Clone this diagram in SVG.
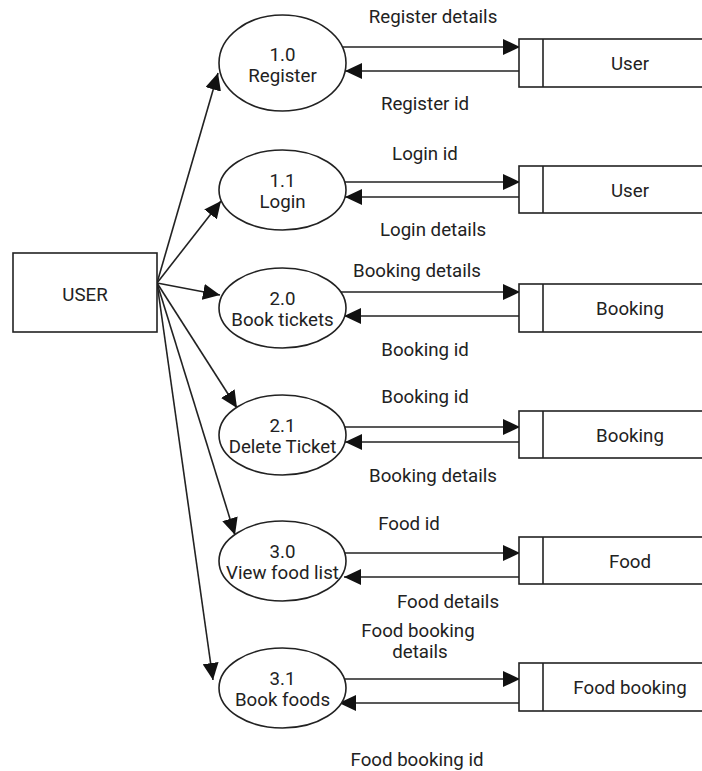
<svg xmlns="http://www.w3.org/2000/svg" width="702" height="771" viewBox="0 0 702 771">
<style>
  text { font-family: Roboto, "Liberation Sans", sans-serif; font-size: 18.7px; fill: #222; text-anchor: middle; }
  .shape { fill: #fff; stroke: #222; stroke-width: 1.6; }
  .flow { fill: none; stroke: #222; stroke-width: 1.6; marker-end: url(#arrow); }
</style>
<defs>
  <marker id="arrow" markerUnits="userSpaceOnUse" markerWidth="18" markerHeight="16" viewBox="0 0 18 16" refX="17" refY="8" orient="auto">
    <path d="M0,0 L17,8 L0,16 Z" fill="#111"/>
  </marker>
</defs>
<rect width="702" height="771" fill="#fff"/>

<g id="connectors">
  <line class="flow" x1="157" y1="283" x2="218" y2="73"/>
  <line class="flow" x1="157" y1="283" x2="221" y2="201"/>
  <line class="flow" x1="157" y1="283" x2="220" y2="295"/>
  <line class="flow" x1="157" y1="283" x2="237" y2="408"/>
  <line class="flow" x1="157" y1="283" x2="235" y2="535"/>
  <line class="flow" x1="157" y1="283" x2="213" y2="680"/>

  <line class="flow" x1="339" y1="47" x2="520" y2="47"/>
  <line class="flow" x1="519" y1="71" x2="345" y2="71"/>
  <line class="flow" x1="343" y1="182" x2="520" y2="182"/>
  <line class="flow" x1="519" y1="197" x2="345" y2="197"/>
  <line class="flow" x1="340" y1="292" x2="520" y2="292"/>
  <line class="flow" x1="519" y1="316" x2="344" y2="316"/>
  <line class="flow" x1="344" y1="427" x2="520" y2="427"/>
  <line class="flow" x1="519" y1="442" x2="345" y2="442"/>
  <line class="flow" x1="340" y1="553" x2="520" y2="553"/>
  <line class="flow" x1="519" y1="577" x2="344" y2="577"/>
  <line class="flow" x1="343" y1="679" x2="520" y2="679"/>
  <line class="flow" x1="519" y1="703" x2="339" y2="703"/>
</g>

<g id="labels">
  <text x="433" y="23">Register details</text>
  <text x="425" y="110">Register id</text>
  <text x="425" y="160">Login id</text>
  <text x="433" y="236">Login details</text>
  <text x="417" y="277">Booking details</text>
  <text x="425" y="356">Booking id</text>
  <text x="425" y="403">Booking id</text>
  <text x="433" y="482">Booking details</text>
  <text x="409" y="530">Food id</text>
  <text x="448" y="608">Food details</text>
  <text x="418" y="637">Food booking</text>
  <text x="420" y="658">details</text>
  <text x="417" y="766">Food booking id</text>
</g>

<g id="user">
  <rect class="shape" x="13" y="253" width="144" height="79"/>
  <text x="85" y="301">USER</text>
</g>

<g id="p1_0">
  <ellipse class="shape" cx="282.5" cy="63" rx="63.5" ry="48"/>
  <text x="282.5" y="61">1.0</text>
  <text x="282.5" y="82">Register</text>
</g>
<g id="p1_1">
  <ellipse class="shape" cx="282.5" cy="190" rx="63.5" ry="40"/>
  <text x="282.5" y="187">1.1</text>
  <text x="282.5" y="208">Login</text>
</g>
<g id="p2_0">
  <ellipse class="shape" cx="282.5" cy="308" rx="63.5" ry="40"/>
  <text x="282.5" y="305">2.0</text>
  <text x="282.5" y="326">Book tickets</text>
</g>
<g id="p2_1">
  <ellipse class="shape" cx="282.5" cy="435" rx="63.5" ry="40"/>
  <text x="282.5" y="432">2.1</text>
  <text x="282.5" y="453">Delete Ticket</text>
</g>
<g id="p3_0">
  <ellipse class="shape" cx="282.5" cy="561" rx="63.5" ry="40"/>
  <text x="282.5" y="558">3.0</text>
  <text x="282.5" y="579">View food list</text>
</g>
<g id="p3_1">
  <ellipse class="shape" cx="282.5" cy="688" rx="63.5" ry="40"/>
  <text x="282.5" y="685">3.1</text>
  <text x="282.5" y="706">Book foods</text>
</g>

<g id="store_user1">
  <rect class="shape" x="519" y="39" width="200" height="48"/>
  <line class="shape" x1="543" y1="39" x2="543" y2="87"/>
  <text x="630" y="70">User</text>
</g>
<g id="store_user2">
  <rect class="shape" x="519" y="166" width="200" height="47"/>
  <line class="shape" x1="543" y1="166" x2="543" y2="213"/>
  <text x="630" y="197">User</text>
</g>
<g id="store_booking1">
  <rect class="shape" x="519" y="284" width="200" height="48"/>
  <line class="shape" x1="543" y1="284" x2="543" y2="332"/>
  <text x="630" y="315">Booking</text>
</g>
<g id="store_booking2">
  <rect class="shape" x="519" y="411" width="200" height="47"/>
  <line class="shape" x1="543" y1="411" x2="543" y2="458"/>
  <text x="630" y="442">Booking</text>
</g>
<g id="store_food">
  <rect class="shape" x="519" y="537" width="200" height="47"/>
  <line class="shape" x1="543" y1="537" x2="543" y2="584"/>
  <text x="630" y="568">Food</text>
</g>
<g id="store_foodbooking">
  <rect class="shape" x="519" y="663" width="200" height="48"/>
  <line class="shape" x1="543" y1="663" x2="543" y2="711"/>
  <text x="630" y="694">Food booking</text>
</g>
</svg>
